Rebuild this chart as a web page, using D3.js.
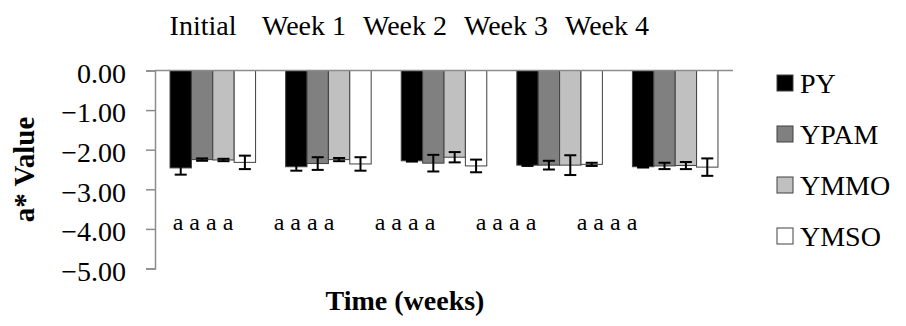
<!DOCTYPE html>
<html>
<head>
<meta charset="utf-8">
<script src="https://cdn.jsdelivr.net/npm/d3@7"></script>
<style>
  body { margin: 0; background: #fff; }
  svg text { font-family: "Liberation Serif", "Times New Roman", serif; fill: #000; }
</style>
</head>
<body>
<div id="chart"></div>
<script>
// chart values
var categories = ["Initial", "Week 1", "Week 2", "Week 3", "Week 4"];
var seriesNames = ["PY", "YPAM", "YMMO", "YMSO"];
var pyValues   = [-2.46, -2.43, -2.28, -2.39, -2.43];
var ypamValues = [-2.25, -2.35, -2.34, -2.39, -2.41];
var ymmoValues = [-2.26, -2.25, -2.19, -2.39, -2.40];
var ymsoValues = [-2.32, -2.36, -2.41, -2.37, -2.44];
var pyErr   = [0.17, 0.10, 0.02, 0.02, 0.02];
var ypamErr = [0.03, 0.16, 0.21, 0.11, 0.08];
var ymmoErr = [0.03, 0.04, 0.13, 0.25, 0.09];
var ymsoErr = [0.17, 0.17, 0.16, 0.04, 0.22];
var letters = ["a a a a", "a a a a", "a a a a", "a a a a", "a a a a"];
var yTicks = [0, -1, -2, -3, -4, -5];

var colors = ["#000000", "#808080", "#c0c0c0", "#ffffff"];
var values = [pyValues, ypamValues, ymmoValues, ymsoValues];
var errors = [pyErr, ypamErr, ymmoErr, ymsoErr];

// build rows for drawing
var rows = [];
categories.forEach(function(c, i) {
    seriesNames.forEach(function(s, j) {
        rows.push({cat: c, series: s, value: values[j][i], err: errors[j][i], color: colors[j]});
    });
});

var width = 906, height = 326;
var plot = {left: 155, right: 733, top: 70.5, bottom: 268.5};
var serif = '"Liberation Serif", "Times New Roman", serif';

var svg = d3.select("#chart").append("svg")
    .attr("width", width)
    .attr("height", height);

var x0 = d3.scaleBand()
    .domain(categories)
    .range([plot.left, plot.right])
    .paddingInner(0.26)
    .paddingOuter(0.13);

var x1 = d3.scaleBand()
    .domain(seriesNames)
    .range([0, x0.bandwidth()]);

var y = d3.scaleLinear()
    .domain([-5, 0])
    .range([plot.bottom, plot.top]);

// labels and letters sit on their own spacing
var xLabel = d3.scalePoint()
    .domain(categories)
    .range([203, 607]);

// bars
svg.append("g").selectAll("rect")
    .data(rows)
    .enter().append("rect")
    .attr("x", function(d) { return x0(d.cat) + x1(d.series); })
    .attr("y", y(0))
    .attr("width", x1.bandwidth())
    .attr("height", function(d) { return y(d.value) - y(0); })
    .attr("fill", function(d) { return d.color; })
    .attr("stroke", "#404040")
    .attr("stroke-width", 1);

// error bars
var eb = svg.append("g").selectAll("g")
    .data(rows)
    .enter().append("g")
    .attr("stroke", "#000")
    .attr("stroke-width", 2);

function cx(d) { return x0(d.cat) + x1(d.series) + x1.bandwidth() / 2; }

eb.append("line")
    .attr("x1", cx).attr("x2", cx)
    .attr("y1", function(d) { return y(d.value + d.err); })
    .attr("y2", function(d) { return y(d.value - d.err); });
eb.append("line")
    .attr("x1", function(d) { return cx(d) - 6; })
    .attr("x2", function(d) { return cx(d) + 6; })
    .attr("y1", function(d) { return y(d.value + d.err); })
    .attr("y2", function(d) { return y(d.value + d.err); });
eb.append("line")
    .attr("x1", function(d) { return cx(d) - 6; })
    .attr("x2", function(d) { return cx(d) + 6; })
    .attr("y1", function(d) { return y(d.value - d.err); })
    .attr("y2", function(d) { return y(d.value - d.err); });

// y axis
var yAxis = svg.append("g")
    .attr("transform", "translate(" + plot.left + ",0)")
    .attr("font-family", serif)
    .call(d3.axisLeft(y).tickValues(yTicks).tickFormat(d3.format(".2f"))
        .tickSize(9).tickSizeOuter(9).tickPadding(20));
yAxis.selectAll("path, line").attr("stroke", "#8c8c8c").attr("stroke-width", 1.5);
yAxis.selectAll("text")
    .attr("dy", "0.42em")
    .style("font-family", serif)
    .style("font-size", "28px")
    .attr("fill", "#000");

// zero line
svg.append("line")
    .attr("x1", plot.left).attr("x2", plot.right)
    .attr("y1", y(0)).attr("y2", y(0))
    .attr("stroke", "#8c8c8c")
    .attr("stroke-width", 1.5);

// category labels on top
svg.append("g").selectAll("text")
    .data(categories)
    .enter().append("text")
    .attr("x", function(d) { return xLabel(d); })
    .attr("y", 35)
    .attr("text-anchor", "middle")
    .style("font-size", "28px")
    .text(function(d) { return d; });

// significance letters
svg.append("g").selectAll("text")
    .data(letters)
    .enter().append("text")
    .attr("x", function(d, i) { return xLabel(categories[i]); })
    .attr("y", 230)
    .attr("text-anchor", "middle")
    .style("font-size", "24px")
    .text(function(d) { return d; });

// axis titles
svg.append("text")
    .attr("transform", "translate(34," + ((plot.top + plot.bottom) / 2) + ") rotate(-90)")
    .attr("text-anchor", "middle")
    .style("font-size", "29px")
    .style("font-weight", "bold")
    .text("a* Value");

svg.append("text")
    .attr("x", (xLabel.range()[0] + xLabel.range()[1]) / 2)
    .attr("y", 310)
    .attr("text-anchor", "middle")
    .style("font-size", "28px")
    .style("font-weight", "bold")
    .text("Time (weeks)");

// legend
var legend = svg.append("g").selectAll("g")
    .data(seriesNames)
    .enter().append("g")
    .attr("transform", function(d, i) { return "translate(777," + (83 + i * 51) + ")"; });

legend.append("rect")
    .attr("x", 0).attr("y", -8)
    .attr("width", 16).attr("height", 16)
    .attr("fill", function(d, i) { return colors[i]; })
    .attr("stroke", "#404040")
    .attr("stroke-width", 1);

legend.append("text")
    .attr("x", 23)
    .attr("y", 10)
    .style("font-size", "28px")
    .text(function(d) { return d; });
</script>
</body>
</html>
